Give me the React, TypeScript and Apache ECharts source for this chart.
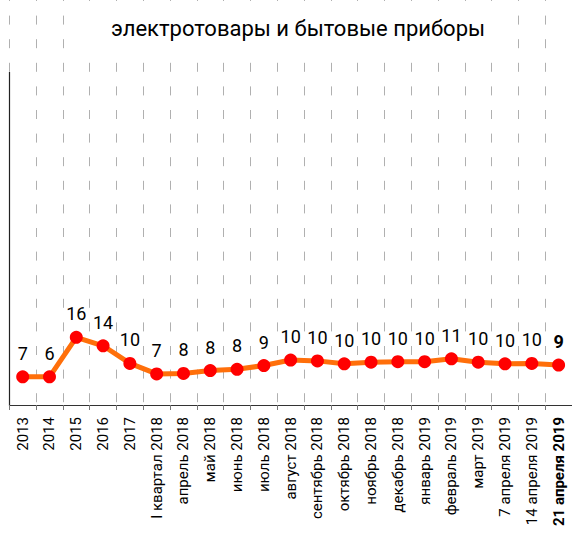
import React, { useEffect, useRef } from "react";
import * as echarts from "echarts";

const categories = [
  "2013", "2014", "2015", "2016", "2017",
  "I квартал 2018", "апрель 2018", "май 2018", "июнь 2018", "июль 2018",
  "август 2018", "сентябрь 2018", "октябрь 2018", "ноябрь 2018", "декабрь 2018",
  "январь 2019", "февраль 2019", "март 2019", "7 апреля 2019", "14 апреля 2019", "21 апреля 2019",
];
const values = [
  6.7, 6.7, 16.1, 14.1, 9.9,
  7.4, 7.5, 8.2, 8.5, 9.4,
  10.7, 10.5, 9.8, 10.2, 10.3,
  10.3, 11.0, 10.2, 9.8, 9.9, 9.5,
];
const pointLabels = [
  "7", "6", "16", "14", "10",
  "7", "8", "8", "8", "9",
  "10", "10", "10", "10", "10",
  "10", "11", "10", "10", "10", "9",
];
const titleText = "электротовары и бытовые приборы";

export default function App() {
  const ref = useRef<HTMLDivElement>(null);
  useEffect(() => {
    if (!ref.current) return;
    const chart = echarts.init(ref.current, null, { renderer: "svg" });
    const last = categories.length - 1;
    chart.setOption({
      animation: false,
      backgroundColor: "#fff",
      title: {
        text: titleText,
        left: 80,
        top: 2,
        padding: [15, 11, 15, 31],
        backgroundColor: "#fff",
        textStyle: {
          fontFamily: "Roboto",
          fontSize: 22,
          fontWeight: "normal",
          color: "#000",
        },
        z: 10,
      },
      grid: { left: 9.3, width: 569, top: 0, height: 405, containLabel: false },
      xAxis: {
        type: "category",
        data: categories,
        boundaryGap: true,
        axisLine: { show: true, lineStyle: { color: "#333", width: 1 } },
        axisTick: { show: true, interval: 0, length: 5, lineStyle: { color: "#777" } },
        splitLine: {
          show: true,
          interval: 0,
          lineStyle: { color: "#b0b0b0", width: 1, type: [9, 14.6], dashOffset: 7.6 },
        },
        axisLabel: {
          interval: 0,
          rotate: 90,
          margin: 12,
          fontFamily: "Roboto",
          fontSize: 15,
          color: "#000",
          formatter: (v: string, i: number) => (i === last ? `{b|${v}}` : v),
          rich: { b: { fontWeight: "bold", fontFamily: "Roboto", fontSize: 15, color: "#000" } },
        },
      },
      yAxis: {
        type: "value",
        min: 0,
        max: 96.4,
        axisLine: { show: false },
        axisTick: { show: false },
        axisLabel: { show: false },
        splitLine: { show: false },
      },
      graphic: [
        {
          type: "line",
          shape: { x1: 9.5, y1: 72, x2: 9.5, y2: 405 },
          style: { stroke: "#222", lineWidth: 1.2 },
          z: 5,
        },
      ],
      series: [
        {
          type: "line",
          data: values,
          symbol: "circle",
          symbolSize: 13,
          lineStyle: { color: "#ff6f0a", width: 5 },
          itemStyle: { color: "#ff0000" },
          label: {
            show: true,
            position: "top",
            distance: 8,
            fontFamily: "Roboto",
            fontSize: 18,
            color: "#000",
            formatter: (p: any) =>
              p.dataIndex === last ? `{b|${pointLabels[p.dataIndex]}}` : pointLabels[p.dataIndex],
            rich: { b: { fontWeight: "bold", fontFamily: "Roboto", fontSize: 18, color: "#000" } },
          },
        },
      ],
    });
    return () => chart.dispose();
  }, []);
  return (
    <div
      ref={ref}
      style={{ position: "absolute", left: 0, top: 0, width: 572, height: 534 }}
    />
  );
}
